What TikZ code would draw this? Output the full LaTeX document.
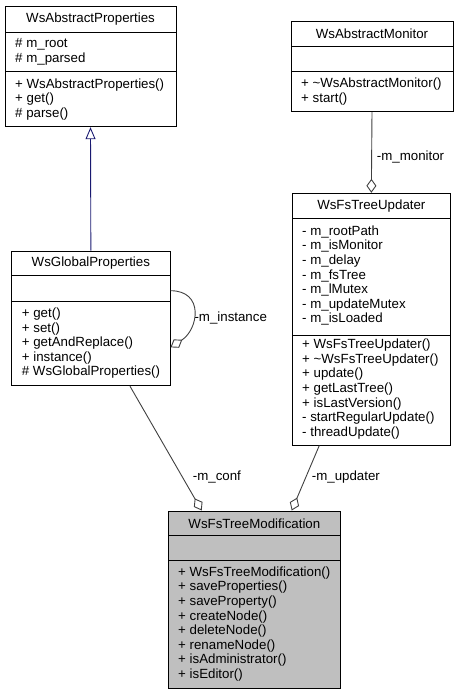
\documentclass[tikz,border=0pt]{standalone}
\usepackage{fontspec}
\setmainfont{Liberation Sans}
\usetikzlibrary{arrows.meta}

\definecolor{edgegrey}{HTML}{404040}
\definecolor{inheritblue}{HTML}{191970}
\definecolor{mainfill}{HTML}{BFBFBF}

\tikzset{
    classbox/.style={draw=black, line width=1pt, fill=white, inner sep=0pt},
    classname/.style={inner sep=0pt},
    members/.style={align=left, anchor=west, inner sep=0pt},
    rolename/.style={anchor=west, inner sep=0pt},
    usage/.style={draw=edgegrey, line width=0.9pt, -{Diamond[open, length=14pt, width=10pt]}},
    inherit/.style={draw=inheritblue, line width=0.9pt, {Triangle[open, length=12pt, width=10pt]}-},
}

\begin{document}
\begin{tikzpicture}[x=1pt, y=-1pt, font=\fontsize{13.3}{14.6}\selectfont]
        \useasboundingbox (0,0) rectangle (459,696);

        \node[classbox, minimum width=171pt, minimum height=120.7pt] (absprop) at (90.5,66.35) {};
        \draw[line width=1pt] (5,32) -- (176,32);
        \draw[line width=1pt] (5,71.7) -- (176,71.7);
        \node[classname] (absprop-name) at (90.5,19) {WsAbstractProperties};
        \node[members] (absprop-attr) at (15,51.85) {\# m\_root\\\# m\_parsed};
        \node[members] (absprop-ops) at (15,99.2) {+ WsAbstractProperties()\\+ get()\\\# parse()};

        \node[classbox, minimum width=158.3pt, minimum height=134.7pt] (globprop) at (90.85,318.35) {};
        \draw[line width=1pt] (11.7,275.7) -- (170,275.7);
        \draw[line width=1pt] (11.7,301) -- (170,301);
        \node[classname] (globprop-name) at (90.85,263.35) {WsGlobalProperties};
        \node[members] (globprop-ops) at (21.7,343.35) {+ get()\\+ set()\\+ getAndReplace()\\+ instance()\\\# WsGlobalProperties()};

        \node[classbox, minimum width=162pt, minimum height=90pt] (absmon) at (372,66.7) {};
        \draw[line width=1pt] (291,46) -- (453,46);
        \draw[line width=1pt] (291,71.7) -- (453,71.7);
        \node[classname] (absmon-name) at (372,33.85) {WsAbstractMonitor};
        \node[members] (absmon-ops) at (301,91.7) {+ \textasciitilde WsAbstractMonitor()\\+ start()};

        \node[classbox, minimum width=158.7pt, minimum height=251.7pt] (fsupdater) at (371.35,319.15) {};
        \draw[line width=1pt] (292,218) -- (450.7,218);
        \draw[line width=1pt] (292,335) -- (450.7,335);
        \node[classname] (fsupdater-name) at (371.35,205.65) {WsFsTreeUpdater};
        \node[members] (fsupdater-attr) at (302,275.5) {- m\_rootPath\\- m\_isMonitor\\- m\_delay\\- m\_fsTree\\- m\_lMutex\\- m\_updateMutex\\- m\_isLoaded};
        \node[members] (fsupdater-ops) at (302,389) {+ WsFsTreeUpdater()\\+ \textasciitilde WsFsTreeUpdater()\\+ update()\\+ getLastTree()\\+ isLastVersion()\\- startRegularUpdate()\\- threadUpdate()};

        \node[classbox, fill=mainfill, minimum width=172.7pt, minimum height=177pt] (treemod) at (254.35,599.5) {};
        \draw[line width=1pt] (168,535.7) -- (340.7,535.7);
        \draw[line width=1pt] (168,560) -- (340.7,560);
        \node[classname] (treemod-name) at (254.35,523.35) {WsFsTreeModification};
        \node[members] (treemod-ops) at (178,624) {+ WsFsTreeModification()\\+ saveProperties()\\+ saveProperty()\\+ createNode()\\+ deleteNode()\\+ renameNode()\\+ isAdministrator()\\+ isEditor()};

        \draw[inherit] (absprop.south) -- (globprop.north);

        \draw[usage] ([yshift=27.65pt]globprop.east) .. controls +(34,0) and +(28,-18) .. ([yshift=-29pt]globprop.east);
        \node[rolename] (instance-role) at (194.3,318) {-m\_instance};

        \draw[usage] (absmon.south) -- (fsupdater.north);
        \node[rolename] (monitor-role) at (376.7,157.3) {-m\_monitor};

        \draw[usage] ([xshift=39.15pt]globprop.south) -- ([xshift=-52.65pt]treemod.north);
        \node[rolename] (conf-role) at (192.7,476.7) {-m\_conf};

        \draw[usage] ([xshift=-52.05pt]fsupdater.south) -- ([xshift=37.35pt]treemod.north);
        \node[rolename] (updater-role) at (311.7,476.7) {-m\_updater};
    \end{tikzpicture}
\end{document}
